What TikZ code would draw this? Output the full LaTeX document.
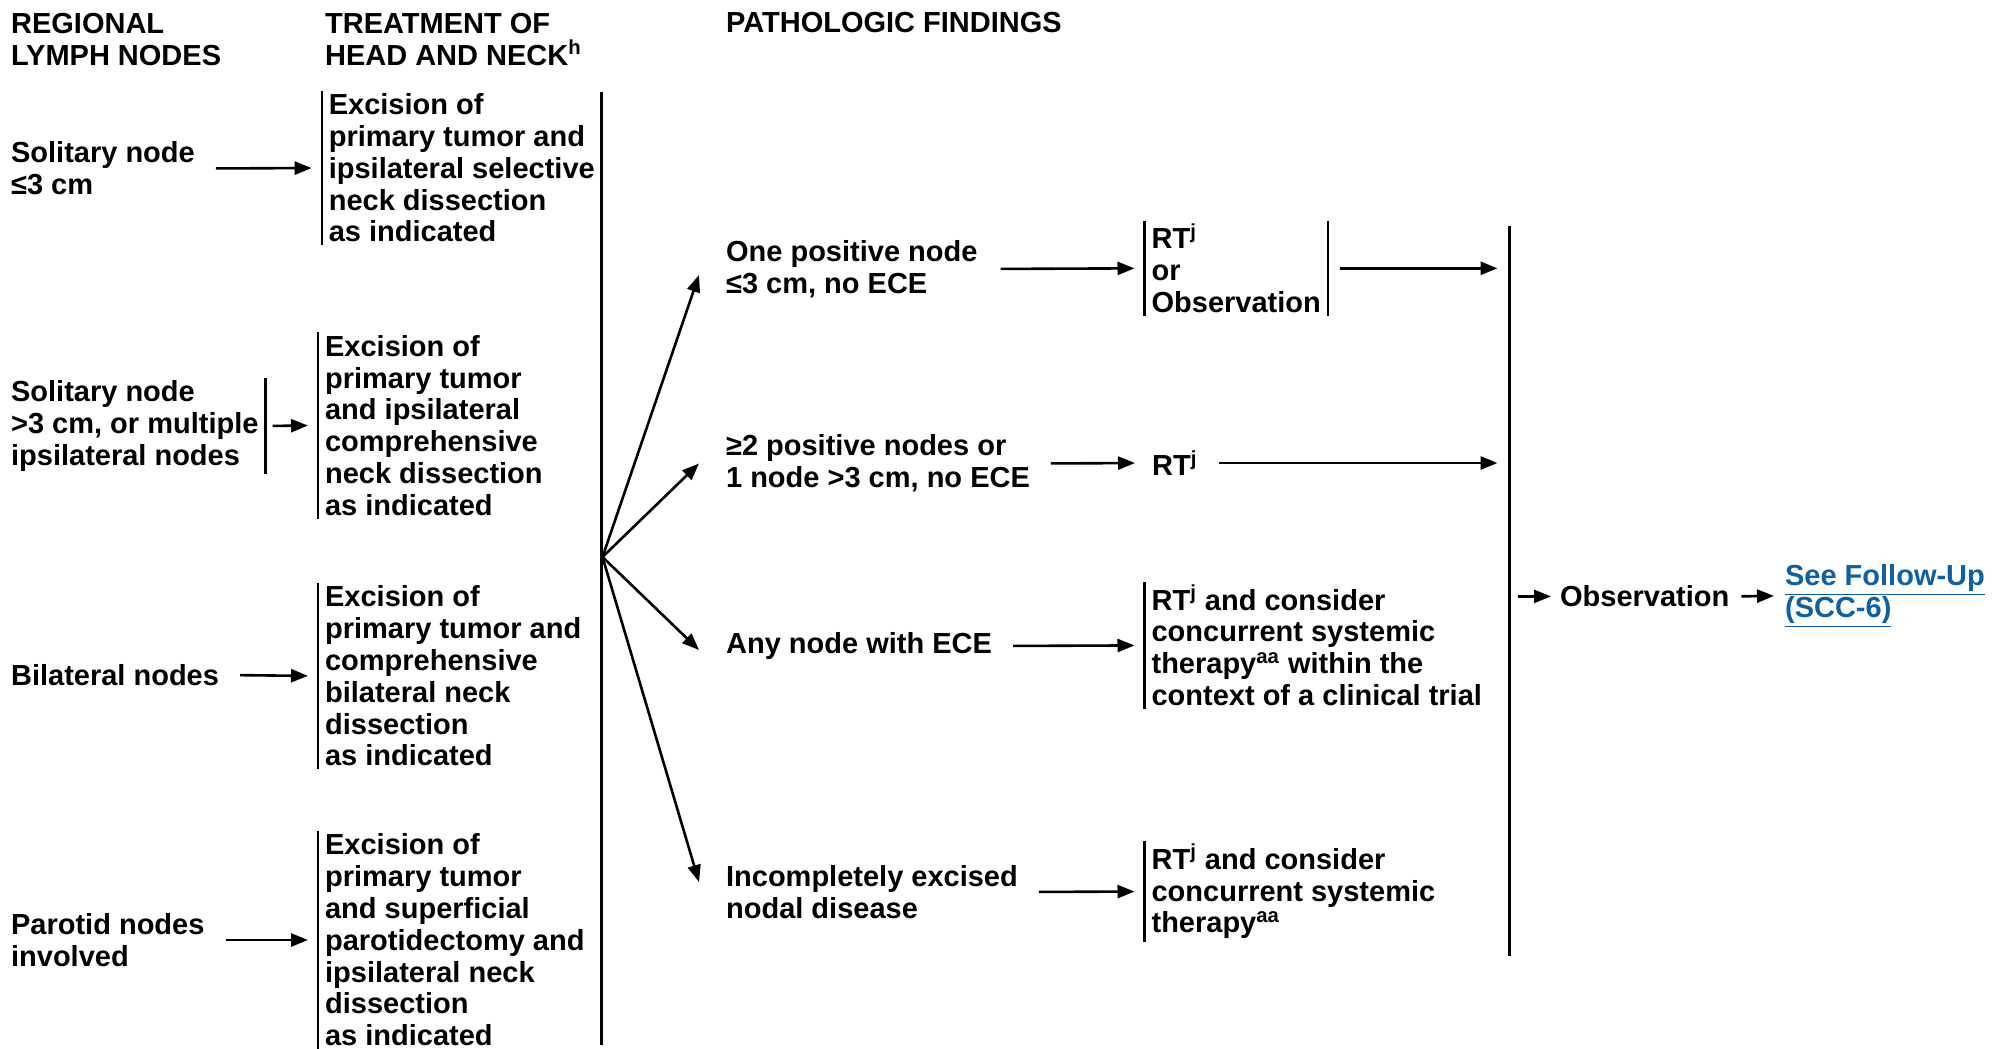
\documentclass[tikz,border=0pt]{standalone}
\usepackage{fontspec}
\setmainfont{Liberation Sans}
\usetikzlibrary{arrows.meta}
\definecolor{linkblue}{RGB}{16,96,160}
\tikzset{
  txt/.style={font=\bfseries\fontsize{14.5}{15.9}\selectfont, align=left, anchor=west, inner xsep=3pt, inner ysep=1pt},
  arr/.style={-{Triangle[length=8.5pt,width=6.5pt]}, line width=1.3pt, shorten <=7pt, shorten >=5pt},
}

\begin{document}
\begin{tikzpicture}[x=0.5pt, y=-0.5pt, line width=1.1pt]
\useasboundingbox (0,0) rectangle (1994,1049);

% column heads
\node[txt] (hdr1) at (4,39.5) {REGIONAL\\LYMPH NODES};
\node[txt] (hdr2) at (318,39.5) {TREATMENT OF\\HEAD AND NECK\textsuperscript{h}};
\node[txt] (hdr3) at (719,23) {PATHOLOGIC FINDINGS};

% regional lymph nodes
\node[txt] (sol1) at (4,168.5) {Solitary node\\≤3 cm};
\node[txt] (sol2) at (4,426) {Solitary node\\>3 cm, or multiple\\ipsilateral nodes};
\node[txt] (bil) at (4,675) {Bilateral nodes};
\node[txt] (par) at (4,940) {Parotid nodes\\involved};

% treatment
\node[txt] (tr1) at (321.7,168) {Excision of\\primary tumor and\\ipsilateral selective\\neck dissection\\as indicated};
\node[txt] (tr2) at (318,425.4) {Excision of\\primary tumor\\and ipsilateral\\comprehensive\\neck dissection\\as indicated};
\node[txt] (tr3) at (318,676) {Excision of\\primary tumor and\\comprehensive\\bilateral neck\\dissection\\as indicated};
\node[txt] (tr4) at (318,940) {Excision of\\primary tumor\\and superficial\\parotidectomy and\\ipsilateral neck\\dissection\\as indicated};

% pathologic findings
\node[txt] (pf1) at (719,269) {One positive node\\≤3 cm, no ECE};
\node[txt] (pf2) at (719,463.5) {≥2 positive nodes or\\1 node >3 cm, no ECE};
\node[txt] (pf3) at (719,646) {Any node with ECE};
\node[txt] (pf4) at (719,892) {Incompletely excised\\nodal disease};

% adjuvant
\node[txt] (rt1) at (1144.5,268.3) {RT\textsuperscript{j}\\or\\Observation};
\node[txt] (rt2) at (1145,463) {RT\textsuperscript{j}};
\node[txt] (rt3) at (1144.5,645.4) {RT\textsuperscript{j} and consider\\concurrent systemic\\therapy\textsuperscript{aa} within the\\context of a clinical trial};
\node[txt] (rt4) at (1144.5,891.5) {RT\textsuperscript{j} and consider\\concurrent systemic\\therapy\textsuperscript{aa}};

\node[txt] (obs) at (1553,596.4) {Observation};
\node[txt, text=linkblue] (link) at (1778,595.8) {\underline{See Follow-Up}\\\underline{(SCC-6)}};

% brackets
\foreach \n in {tr1,tr2,tr3,tr4,rt1,rt3,rt4}
  \draw (\n.north west) -- (\n.south west);
\draw (sol2.north east) -- (sol2.south east);
\draw (rt1.north east) -- (rt1.south east);

\coordinate (jtop) at (601.5,91.6);
\coordinate (jbot) at (601.5,1045);
\coordinate (fan) at (602.5,557);
\draw (jtop) -- (jbot);
\coordinate (ctop) at (1509.5,226);
\coordinate (cbot) at (1509.5,956);
\draw (ctop) -- (cbot);

% arrows
\draw[arr] (sol1.east) -- (tr1.west);
\draw[arr, shorten <=3.5pt] (sol2.east) -- (tr2.west);
\draw[arr] (bil.east) -- (tr3.west);
\draw[arr] (par.east) -- (tr4.west);

\draw[arr, shorten <=0pt, shorten >=0pt] (fan) -- ([xshift=-10pt,yshift=-3pt]pf1.west);
\draw[arr, shorten <=0pt, shorten >=0pt] (fan) -- ([xshift=-10pt]pf2.west);
\draw[arr, shorten <=0pt, shorten >=0pt] (fan) -- ([xshift=-10pt,yshift=-2pt]pf3.west);
\draw[arr, shorten <=0pt, shorten >=0pt] (fan) -- ([xshift=-10pt,yshift=5pt]pf4.west);

\draw[arr, shorten <=8pt] (pf1.east) -- (rt1.west);
\draw[arr] (pf2.east) -- (rt2.west);
\draw[arr] (pf3.east) -- (rt3.west);
\draw[arr] (pf4.east) -- (rt4.west);

\draw[arr, shorten <=6pt, shorten >=6pt] (rt1.east) -- (rt1.east -| ctop);
\draw[arr, shorten <=7pt, shorten >=6pt] (rt2.east) -- (rt2.east -| ctop);

\draw[arr, shorten <=4pt, shorten >=1pt] (obs.west -| ctop) -- (obs.west);
\draw[arr, shorten <=2.5pt, shorten >=2pt] (obs.east) -- (link.west);
\end{tikzpicture}
\end{document}
